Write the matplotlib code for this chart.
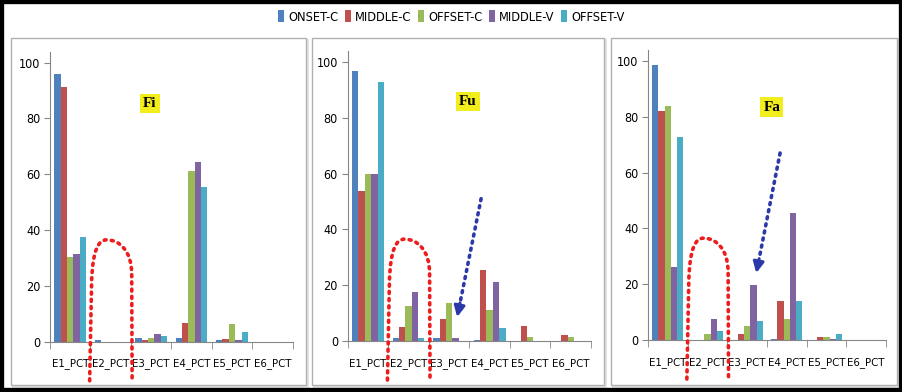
import numpy as np
import matplotlib
matplotlib.use('Agg')
import matplotlib.pyplot as plt
from matplotlib.patches import Rectangle, PathPatch, Patch
from matplotlib.path import Path

plt.rcParams['font.family'] = ['DejaVu Sans']
plt.rcParams['font.stretch'] = 'condensed'

# categories and series
categories = ['E1_PCT', 'E2_PCT', 'E3_PCT', 'E4_PCT', 'E5_PCT', 'E6_PCT']
series = ['ONSET-C', 'MIDDLE-C', 'OFFSET-C', 'MIDDLE-V', 'OFFSET-V']
colors = ['#4F81BD', '#C0504D', '#9BBB59', '#8064A2', '#4BACC6']

# Fi panel
fi_onset_c = [95.8, 0.5, 1.5, 1.5, 0.5, 0]
fi_middle_c = [91.4, 0, 0.5, 6.6, 0.8, 0]
fi_offset_c = [30.5, 0, 1.2, 61.0, 6.2, 0]
fi_middle_v = [31.3, 0, 2.6, 64.4, 0.5, 0]
fi_offset_v = [37.4, 0, 2.2, 55.3, 3.5, 0]

# Fu panel
fu_onset_c = [96.7, 1.0, 1.0, 0.5, 0, 0]
fu_middle_c = [53.8, 5.0, 8.0, 25.5, 5.5, 2.0]
fu_offset_c = [59.8, 12.5, 13.5, 11.0, 1.5, 1.5]
fu_middle_v = [59.8, 17.5, 1.0, 21.0, 0, 0]
fu_offset_v = [92.8, 1.0, 0, 4.5, 0, 0]

# Fa panel
fa_onset_c = [98.4, 0, 0, 0.5, 0, 0]
fa_middle_c = [82.0, 0, 2.0, 14.0, 1.0, 0]
fa_offset_c = [84.0, 2.0, 5.0, 7.5, 1.0, 0]
fa_middle_v = [26.0, 7.5, 19.7, 45.5, 0.5, 0]
fa_offset_v = [72.7, 3.3, 6.8, 14.0, 2.3, 0]

panel_names = ['Fi', 'Fu', 'Fa']
panel_data = [
    [fi_onset_c, fi_middle_c, fi_offset_c, fi_middle_v, fi_offset_v],
    [fu_onset_c, fu_middle_c, fu_offset_c, fu_middle_v, fu_offset_v],
    [fa_onset_c, fa_middle_c, fa_offset_c, fa_middle_v, fa_offset_v],
]

W, H = 903, 392
fig = plt.figure(figsize=(W / 100, H / 100), dpi=100)

# axes rectangles in pixels: left, right, y of 0, y of top
axes_px = [(50, 292.7, 341.7, 51.5), (347.7, 591, 341, 50.8), (648, 886, 340, 49.8)]
frames_px = [(11, 306), (312, 604), (611, 897)]
label_pos = [(1.97, 85.5), (2.47, 85.7), (2.62, 83.5)]
arrows = [None, ((2.79, 51), (2.2, 8.6)), ((2.83, 67), (2.23, 24))]

# panel frames
for x0, x1 in frames_px:
    fig.patches.append(Rectangle((x0 / W + 0.002, (H - 385) / H - 0.004), (x1 - x0) / W, (385 - 38) / H,
                                 transform=fig.transFigure, facecolor='none',
                                 edgecolor='#e4e4e4', lw=1.5, zorder=-2))
    fig.patches.append(Rectangle((x0 / W, (H - 385) / H), (x1 - x0) / W, (385 - 38) / H,
                                 transform=fig.transFigure, facecolor='white',
                                 edgecolor='#b0b0b0', lw=1.0, zorder=-1))

x = np.arange(len(categories))
bw = 0.157
dots = (0, (0.55, 1.45))

for k, (l, r, y0, yt) in enumerate(axes_px):
    ax = fig.add_axes([l / W, (H - y0) / H, (r - l) / W, (y0 - yt) / H])
    ax.patch.set_alpha(0)
    for i, vals in enumerate(panel_data[k]):
        ax.bar(x + (i - 2) * bw, vals, width=bw, color=colors[i], zorder=2)
    ax.set_xlim(-0.5, 5.5)
    ax.set_ylim(0, 104)
    ax.set_yticks([0, 20, 40, 60, 80, 100])
    ax.set_xticks(x)
    ax.set_xticklabels(categories)
    ax.set_xticks(np.arange(-0.5, 6, 1), minor=True)
    ax.tick_params(axis='x', which='major', length=0, pad=12, labelsize=8.2)
    ax.tick_params(axis='x', which='minor', length=5, color='#868686', direction='out')
    ax.tick_params(axis='y', length=4, color='#868686', labelsize=9, pad=3)
    for s in ['top', 'right']:
        ax.spines[s].set_visible(False)
    for s in ['left', 'bottom']:
        ax.spines[s].set_color('#868686')

    # panel label
    lx, ly = label_pos[k]
    ax.text(lx, ly, panel_names[k], family='Liberation Serif', stretch='normal',
            fontweight='bold', fontsize=11, ha='center', va='center', zorder=5,
            bbox=dict(boxstyle='square,pad=0.2', facecolor='#f2ee1e', edgecolor='none'))

    # red dotted loop over E2
    verts = [(0.48, -14), (0.53, 22),
             (0.56, 33), (0.7, 36.5), (0.9, 36.5),
             (1.2, 36.5), (1.52, 33), (1.52, 24),
             (1.53, -14)]
    codes = [Path.MOVETO, Path.LINETO,
             Path.CURVE4, Path.CURVE4, Path.CURVE4,
             Path.CURVE4, Path.CURVE4, Path.CURVE4,
             Path.LINETO]
    loop = PathPatch(Path(verts, codes), fill=False, edgecolor='#ee1c1c', lw=2.6,
                     linestyle=dots, capstyle='round', clip_on=False, zorder=6)
    ax.add_patch(loop)

    # blue dotted arrow
    if arrows[k] is not None:
        (sx, sy), (hx, hy) = arrows[k]
        fx = hx + (sx - hx) * 0.12
        fy = hy + (sy - hy) * 0.12
        ax.plot([sx, fx], [sy, fy], color='#2b3aa8', lw=2.6, linestyle=dots,
                dash_capstyle='round', zorder=6)
        ax.annotate('', xy=(hx, hy), xytext=(fx, fy),
                    arrowprops=dict(arrowstyle='-|>', color='#2b3aa8', lw=2.2,
                                    mutation_scale=16, shrinkA=0, shrinkB=0), zorder=6)

# legend
handles = [Patch(facecolor=c, edgecolor='none') for c in colors]
fig.legend(handles, series, loc='center', bbox_to_anchor=(0.5, (H - 17) / H), ncol=5,
           frameon=False, fontsize=9.2, handlelength=0.45, handleheight=1.0,
           handletextpad=0.35, columnspacing=0.5)

# outer black border
fig.patches.append(Rectangle((0, 0), 1, 1, transform=fig.transFigure, facecolor='none',
                             edgecolor='black', lw=6, zorder=10))

fig.savefig('out.png', dpi=100)
